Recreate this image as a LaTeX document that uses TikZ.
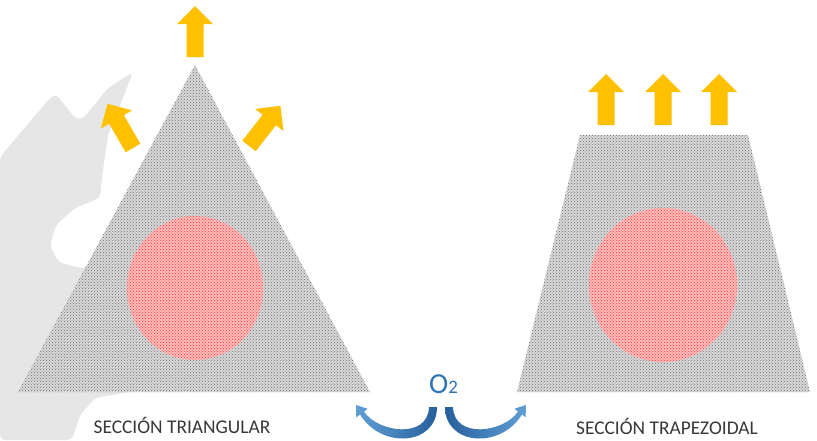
\documentclass[tikz,border=0pt]{standalone}
\usepackage{fontspec}
\setmainfont{Carlito}
\usetikzlibrary{patterns}
\usetikzlibrary{shapes.geometric}

\definecolor{heatyellow}{RGB}{255,192,0}
\definecolor{oxyblue}{RGB}{46,117,182}
\definecolor{oxydark}{RGB}{38,96,156}
\definecolor{oxylight}{RGB}{96,158,214}
\definecolor{shadowgray}{RGB}{230,230,230}
\definecolor{labelgray}{RGB}{56,56,56}

% block arrow, tail at the origin, pointing up
\tikzset{heat/.pic={
  \fill[heatyellow] (-8.5,0) -- (-8.5,-33) -- (-18,-33) -- (0,-51)
    -- (18,-33) -- (8.5,-33) -- (8.5,0) -- cycle;}}

\begin{document}
\begin{tikzpicture}
    [x=1pt,y=-1pt,
    section/.style={fill=gray!30,
      postaction={pattern=crosshatch dots,pattern color=gray!85!black}},
    core/.style={ellipse,fill=red!27,inner sep=0pt,
      postaction={pattern=crosshatch dots,pattern color=red!80}},
    caption/.style={anchor=base,text=labelgray,
      font=\fontsize{19.4}{22}\selectfont}]

    \path[use as bounding box,fill=white] (0,0) rectangle (817,440);

    % faint shape in the background
    \fill[shadowgray,rounded corners=5] (0,157) -- (50,98) -- (56,94) -- (75,118)
      -- (82,120) -- (108,88) -- (133,72) -- (122,100) -- (108,135) -- (103,170)
      -- (100,198) -- (75,208) -- (56,225) -- (50,245) -- (58,262) -- (80,268)
      -- (140,268) -- (140,390) -- (95,398) -- (80,415) -- (72,440) -- (0,440) -- cycle;

    % sections
    \fill[section] (195,65) -- (370,392) -- (18,392) -- cycle;

    \fill[section] (580,135) -- (748,135) -- (810,392) -- (517,392) -- cycle;

    \node (coretri)  at (195,288) [core,minimum width=136pt,minimum height=144pt] {};

    \node (coretrap) at (663,285) [core,minimum width=148pt,minimum height=154pt] {};

    % heat flow
    \pic at (195,57) {heat};
    \pic[rotate=30] at (133,148) {heat};
    \pic[rotate=-38] at (249,146) {heat};

    \foreach \x in {606,663,719}
      \pic at (\x,125) {heat};

    % oxygen
    \node (oxy) at (429,393) [anchor=base west,inner sep=0pt,text=oxyblue]
      {\fontsize{29}{30}\selectfont O\fontsize{19}{20}\selectfont 2};

    \shade[left color=oxylight,right color=oxydark] (437,407)
      .. controls (437,445) and (382,450) .. (360,414.5) -- (356.4,417.2)
      -- (356,405) -- (367.6,408.8) -- (364,411.5)
      .. controls (377,432) and (428,440) .. (429,407) -- cycle;

    \shade[left color=oxydark,right color=oxylight] (445,407)
      .. controls (445,445) and (500,450) .. (522,414.5) -- (525.6,417.2)
      -- (526,405) -- (514.4,408.8) -- (518,411.5)
      .. controls (505,432) and (454,440) .. (453,407) -- cycle;

    % labels
    \node (labtri)  at (182,433) [caption] {SECCIÓN TRIANGULAR};

    \node (labtrap) at (667,434) [caption] {SECCIÓN TRAPEZOIDAL};

\end{tikzpicture}
\end{document}
